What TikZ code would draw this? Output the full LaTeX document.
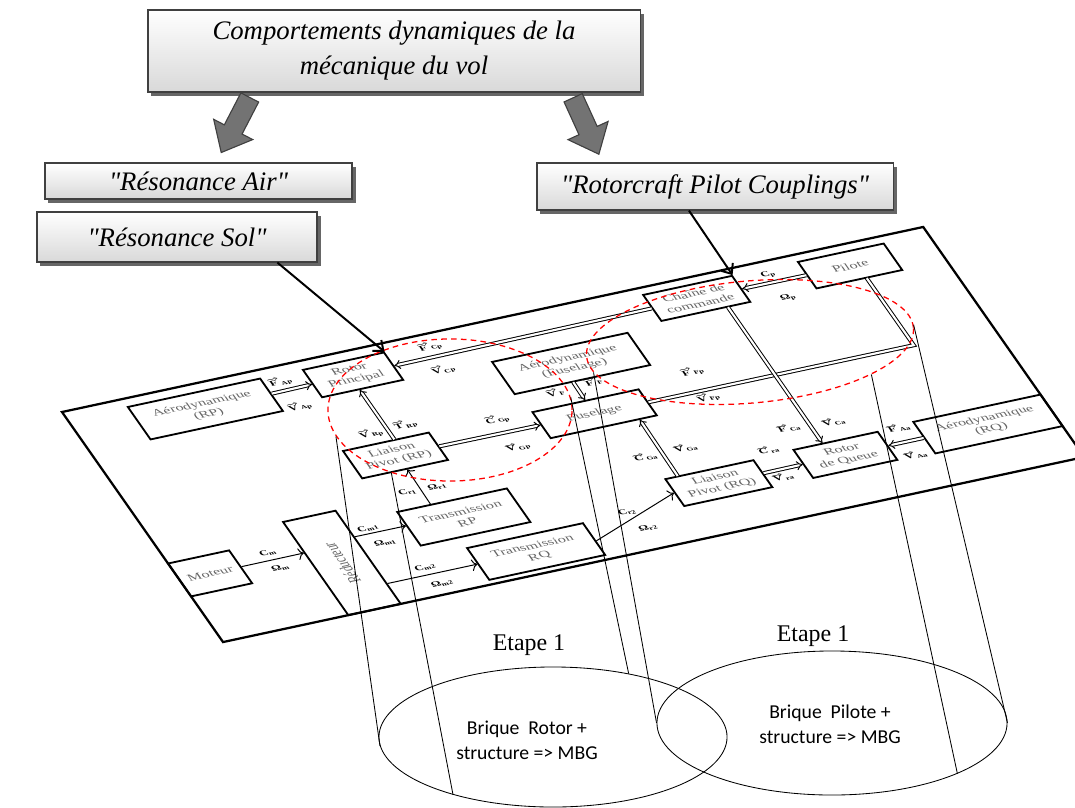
\documentclass[tikz,border=0pt]{standalone}
\usepackage{fontspec}
\setmainfont{Liberation Serif}
\newfontfamily\calib{Carlito}
\usetikzlibrary{arrows.meta,positioning,shapes.geometric,shadows,calc}

\newcommand{\vlab}[2]{$\overrightarrow{\mbox{#1}\,}$\textsubscript{#2}}
\newcommand{\slab}[2]{#1\textsubscript{#2}}
\newcommand{\qt}[1]{\textquotedbl#1\textquotedbl}

\tikzset{
  topbox/.style={draw=black!75, line width=0.8pt, top color=white, bottom color=black!15,
    drop shadow={shadow xshift=2.5pt, shadow yshift=-2.5pt, fill=black!60, opacity=1},
    font=\fontsize{19}{25}\selectfont\itshape, align=center, inner sep=2pt},
  fatarrow/.style={draw=black!75, fill=black!55, line width=0.8pt, line join=miter},
  callarrow/.style={line width=1.4pt, -{Straight Barb[length=6pt,width=10pt]}},
  blk/.style={draw, line width=1.3pt, align=center, text=black!60,
    font=\fontsize{11}{12.5}\selectfont, inner sep=1pt},
  bond/.style={double, double distance=1.5pt, line width=0.7pt, -{Implies}},
  sig/.style={line width=0.7pt, -{To[length=4pt]}},
  lab/.style={font=\fontsize{8.5}{9}\selectfont\bfseries, inner sep=0pt},
  zone/.style={ellipse, draw=red, line width=0.9pt, dash pattern=on 4pt off 3pt, inner sep=0pt},
  brique/.style={ellipse, draw, line width=0.6pt, inner sep=0pt},
  briquetxt/.style={align=center, font=\calib\fontsize{14}{18}\selectfont},
  etape/.style={font=\fontsize{17}{20}\selectfont},
  proj/.style={line width=0.6pt},
}

\begin{document}
\begin{tikzpicture}[x=0.025cm, y=-0.025cm]
\useasboundingbox (0,0) rectangle (1075,807);

% titres
\node[topbox, minimum width=12.3cm, minimum height=2.05cm] (comp) at (394,51)
  {Comportements dynamiques de la\\mécanique du vol};
\node[topbox, minimum width=7.675cm, minimum height=0.9cm] (air) at (198.5,181) {\qt{Résonance Air}};
\node[topbox, minimum width=7cm, minimum height=1.25cm] (sol) at (177,237) {\qt{Résonance Sol}};
\node[topbox, minimum width=8.9cm, minimum height=1.175cm] (rpc) at (715,186.5) {\qt{Rotorcraft Pilot Couplings}};
\foreach \cx/\cy/\ang in {235.5/125/242.6, 586/126/-65.5}
  \draw[fatarrow, shift={(\cx,\cy)}, rotate=\ang]
    (-31,-10) -- (5,-10) -- (5,-22) -- (31,0) -- (5,22) -- (5,10) -- (-31,10) -- cycle;

% plan du modele
\begin{scope}[shift={(62,412)}, cm={0.9784,0.2102,-0.4025,0.575,(0,0)}, x=1cm, y=-1cm, transform shape]
\draw[line width=1.6pt] (0,0) rectangle (22,10);

\node[blk, minimum width=3.38cm, minimum height=1.41cm] (aerorp) at (3.23,1.05) {Aérodynamique\\(RP)};
\node[blk, minimum width=2.07cm, minimum height=1.19cm] (rotorp) at (7.04,0.96) {Rotor\\Principal};
\node[blk, minimum width=3.46cm, minimum height=1.40cm] (aerofus) at (12.06,2.30) {Aérodynamique\\(Fuselage)};
\node[blk, minimum width=2.71cm, minimum height=1.13cm] (fus) at (11.8,4.39) {Fuselage};
\node[blk, minimum width=2.27cm, minimum height=1.13cm] (chaine) at (15.86,0.86) {Chaîne de\\commande};
\node[blk, minimum width=2.19cm, minimum height=1.15cm] (pilote) at (19.77,0.88) {Pilote};
\node[blk, minimum width=2.19cm, minimum height=1.19cm] (lrp) at (6.73,4.35) {Liaison\\Pivot (RP)};
\node[blk, minimum width=2.25cm, minimum height=1.17cm] (lrq) at (13.48,8.02) {Liaison\\Pivot (RQ)};
\node[blk, minimum width=2.15cm, minimum height=1.22cm] (rdq) at (16.73,7.98) {Rotor\\de Queue};
\node[blk, minimum width=3.25cm, minimum height=1.37cm] (aerorq) at (20.375,7.97) {Aérodynamique\\(RQ)};
\node[blk, minimum width=2.8cm, minimum height=1.46cm] (trp) at (7.29,7.23) {Transmission\\RP};
\node[blk, minimum width=2.96cm, minimum height=1.38cm] (trq) at (8.36,9.12) {Transmission\\RQ};
\node[blk, minimum width=1.56cm, minimum height=1.43cm] (moteur) at (0.78,7.3) {Moteur};
\node[blk, minimum width=1.34cm, minimum height=4.05cm] (reduc) at (3.87,7.975) {\rotatebox{90}{\fontsize{12}{13}\selectfont Réducteur}};

% liens de puissance
\draw[bond] (aerorp) -- (rotorp);
\draw[bond] (chaine) -- (rotorp);
\draw[bond] ($(lrp.north west)!0.6!(lrp.north east)$) -- ($(rotorp.south west)!0.46!(rotorp.south east)$);
\draw[bond] ($(aerofus.south west)!0.43!(aerofus.south east)$) -- (fus.north);
\draw[bond] (lrp) -- (fus);
\draw[bond] ($(lrq.north west)!0.15!(lrq.north east)$) -- ($(fus.south west)!0.83!(fus.south east)$);
\coordinate (coin) at (19.95,4.39);
\draw[double, double distance=1.5pt, line width=0.7pt] (fus.east) -- (coin)
  -- ($(pilote.south west)!0.58!(pilote.south east)$);
\draw[bond] (pilote) -- (chaine);
\draw[bond] ($(chaine.south west)!0.74!(chaine.south east)$) -- ($(rdq.north west)!0.35!(rdq.north east)$);
\draw[bond] (lrq) -- (rdq);
\draw[bond] (aerorq) -- (rdq);

\draw[sig] (moteur.east) -- ($(reduc.north west)!0.333!(reduc.south west)$);
\draw[sig] ($(reduc.north east)!0.284!(reduc.south east)$) -- ($(trp.north west)!0.41!(trp.south west)$);
\draw[sig] ($(reduc.north east)!0.78!(reduc.south east)$) -- (trq.west);
\draw[sig] ($(trp.north west)!0.31!(trp.north east)$) -- ($(lrp.south west)!0.52!(lrp.south east)$);
\draw[sig] ($(trq.north east)!0.56!(trq.south east)$) -- (lrq.west);

% grandeurs
\node[lab] (lFAp) at (5.31,0.64) {\vlab{F}{Ap}};
\node[lab] (lVAp) at (5.36,1.74) {\vlab{V}{Ap}};
\node[lab] (lFCp) at (9.18,0.53) {\vlab{F}{Cp}};
\node[lab] (lVCp) at (9.12,1.51) {\vlab{V}{Cp}};
\node[lab] (lVRp) at (6.52,3.34) {\vlab{V}{Rp}};
\node[lab] (lTRp) at (7.42,3.28) {\vlab{T}{Rp}};
\node[lab] (lVF) at (11.25,3.29) {\vlab{V}{F}};
\node[lab] (lFF) at (12.26,3.18) {\vlab{F}{F}};
\node[lab] (lCGp) at (9.54,3.83) {\vlab{C}{Gp}};
\node[lab] (lVGp) at (9.58,5.03) {\vlab{V}{Gp}};
\node[lab] (lCGa) at (12.25,6.43) {\vlab{C}{Ga}};
\node[lab] (lVGa) at (13.28,6.42) {\vlab{V}{Ga}};
\node[lab] (lFFp) at (14.62,3.60) {\vlab{F}{Fp}};
\node[lab] (lVFp) at (14.57,4.72) {\vlab{V}{Fp}};
\node[lab] (lCp) at (17.81,0.56) {\slab{C}{p}};
\node[lab] (lOp) at (17.90,1.59) {\slab{Ω}{p}};
\node[lab] (lFCa) at (15.88,6.50) {\vlab{F}{Ca}};
\node[lab] (lVCa) at (16.97,6.64) {\vlab{V}{Ca}};
\node[lab] (lCra) at (15.09,7.17) {\vlab{C}{ra}};
\node[lab] (lVra) at (15.00,8.31) {\vlab{V}{ra}};
\node[lab] (lFAa) at (18.32,7.39) {\vlab{F}{Aa}};
\node[lab] (lVAa) at (18.28,8.55) {\vlab{V}{Aa}};
\node[lab] (lCm) at (2.38,7.00) {\slab{C}{m}};
\node[lab] (lOm) at (2.42,7.67) {\slab{Ω}{m}};
\node[lab] (lCm1) at (4.99,6.87) {\slab{C}{m1}};
\node[lab] (lOm1) at (5.14,7.57) {\slab{Ω}{m1}};
\node[lab] (lCm2) at (5.65,8.81) {\slab{C}{m2}};
\node[lab] (lOm2) at (5.78,9.55) {\slab{Ω}{m2}};
\node[lab] (lCr1) at (6.42,5.83) {\slab{C}{r1}};
\node[lab] (lOr1) at (7.16,5.88) {\slab{Ω}{r1}};
\node[lab] (lCr2) at (10.99,8.37) {\slab{C}{r2}};
\node[lab] (lOr2) at (11.21,9.14) {\slab{Ω}{r2}};
\end{scope}

% zones et briques
\node[zone, minimum width=6.1cm, minimum height=3.55cm] (zsol) at (450,410) {};
\node[zone, minimum width=8.2cm, minimum height=3.05cm, rotate=5] (zrpc) at (750,342) {};
\node[brique, minimum width=8.7cm, minimum height=3.5cm] (bq1) at (553,737) {};
\node[brique, minimum width=8.75cm, minimum height=3.6cm] (bq2) at (832,723) {};
\node[briquetxt] (tq1) at (527,740) {Brique\ \ Rotor +\\structure => MBG};
\node[briquetxt] (tq2) at (830,724) {Brique\ \ Pilote +\\structure => MBG};
\node[etape] (et1) at (529,645) {Etape 1};
\node[etape] (et2) at (813,636) {Etape 1};

\draw[proj] (zsol.193) -- (bq1.183);
\draw[proj] (zsol.227) -- (bq1.210);
\draw[proj] (zsol.6) -- (bq1.40);
\draw[proj] (zrpc.186) -- (bq2.180);
\draw[proj] (zrpc.340) -- (bq2.338);
\draw[proj] (zrpc.1) -- (bq2.0);

\draw[callarrow] ($(sol.south west)!0.857!(sol.south east)$) -- (rotorp.north east);
\draw[callarrow] ($(rpc.south west)!0.427!(rpc.south east)$) -- (chaine.north east);
\end{tikzpicture}
\end{document}
